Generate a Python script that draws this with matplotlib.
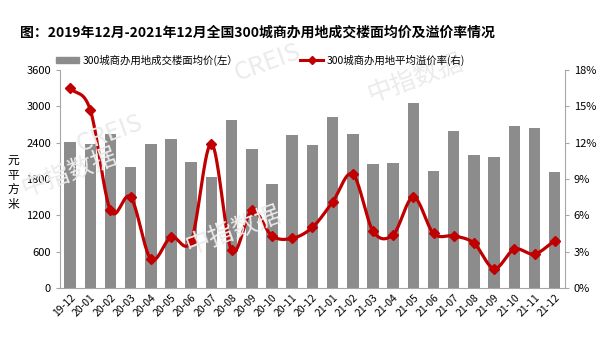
import numpy as np
import matplotlib.pyplot as plt
from matplotlib.lines import Line2D
from matplotlib.patches import Patch
from matplotlib.ticker import FuncFormatter

plt.rcParams['font.family'] = ['Noto Sans CJK SC', 'DejaVu Sans']

months = ['19-12', '20-01', '20-02', '20-03', '20-04', '20-05', '20-06', '20-07',
          '20-08', '20-09', '20-10', '20-11', '20-12', '21-01', '21-02', '21-03',
          '21-04', '21-05', '21-06', '21-07', '21-08', '21-09', '21-10', '21-11', '21-12']
price = [2410, 2370, 2540, 2000, 2380, 2465, 2075, 1835, 2780, 2300, 1715, 2525, 2360,
         2830, 2540, 2045, 2065, 3050, 1925, 2590, 2200, 2155, 2675, 2645, 1915]
premium = [16.5, 14.7, 6.4, 7.5, 2.4, 4.2, 3.9, 11.9, 3.1, 6.4, 4.3, 4.1, 5.0,
           7.1, 9.4, 4.7, 4.4, 7.5, 4.5, 4.3, 3.7, 1.6, 3.2, 2.8, 3.9]

bar_color = '#8c8c8c'
line_color = '#c00000'
axis_color = '#a6a6a6'


def smooth(x, y, n=20):
    # Catmull-Rom style smoothing similar to Excel smoothed lines
    x = np.asarray(x, float)
    y = np.asarray(y, float)
    px = np.concatenate([[2 * x[0] - x[1]], x, [2 * x[-1] - x[-2]]])
    py = np.concatenate([[2 * y[0] - y[1]], y, [2 * y[-1] - y[-2]]])
    xs, ys = [], []
    t = np.linspace(0, 1, n, endpoint=False)
    for i in range(1, len(px) - 2):
        for arr, out in ((px, xs), (py, ys)):
            p0, p1, p2, p3 = arr[i - 1], arr[i], arr[i + 1], arr[i + 2]
            out.extend(0.5 * ((2 * p1) + (-p0 + p2) * t
                              + (2 * p0 - 5 * p1 + 4 * p2 - p3) * t ** 2
                              + (-p0 + 3 * p1 - 3 * p2 + p3) * t ** 3))
    xs.append(x[-1])
    ys.append(y[-1])
    return np.array(xs), np.array(ys)


fig = plt.figure(figsize=(6.06, 3.38), dpi=100)

# faint watermarks
for wx, wy in [(0.6, 0.7), (0.03, 0.42), (0.3, 0.25)]:
    fig.text(wx, wy, '中指数据', fontsize=18, color='#ebebeb', rotation=20, zorder=0)
for wx, wy in [(0.12, 0.55), (0.38, 0.76)]:
    fig.text(wx, wy, 'CREIS', fontsize=18, color='#ebebeb', rotation=20, zorder=0)

ax = fig.add_axes([0.099, 0.148, 0.833, 0.645])
ax.patch.set_alpha(0)
x = np.arange(len(months))
ax.bar(x, price, width=0.57, color=bar_color, zorder=2)
ax.set_ylim(0, 3600)
ax.set_yticks(np.arange(0, 3601, 600))
ax.set_xlim(-0.5, len(months) - 0.5)
ax.set_xticks(x)
ax.set_xticklabels(months, rotation=45, ha='right', rotation_mode='anchor', fontsize=7.5)
ax.tick_params(axis='y', labelsize=8, length=3, color=axis_color)
ax.tick_params(axis='x', length=0, pad=3)
for s in ['top', 'right']:
    ax.spines[s].set_visible(False)
ax.spines['left'].set_color(axis_color)
ax.spines['bottom'].set_color(axis_color)

ax2 = ax.twinx()
sx, sy = smooth(x, premium)
ax2.plot(sx, sy, color=line_color, lw=2.3, zorder=3)
ax2.plot(x, premium, ls='none', marker='D', ms=5.5, color=line_color, zorder=4)
ax2.set_ylim(0, 18)
ax2.set_yticks(np.arange(0, 19, 3))
ax2.yaxis.set_major_formatter(FuncFormatter(lambda v, p: f'{v:.0f}%'))
ax2.tick_params(axis='y', labelsize=8, length=3, color=axis_color)
for s in ['top', 'left', 'bottom']:
    ax2.spines[s].set_visible(False)
ax2.spines['right'].set_color(axis_color)

fig.text(0.012, 0.46, '元\n平\n方\n米', fontsize=8.5, va='center', ha='left', linespacing=1.15)

fig.text(0.425, 0.902, '图：2019年12月-2021年12月全国300城商办用地成交楼面均价及溢价率情况',
         fontsize=10, fontweight='bold', ha='center', va='center')

handles = [Patch(color=bar_color), Line2D([], [], color=line_color, lw=2.2, marker='D', ms=4)]
labels = ['300城商办用地成交楼面均价(左）', '300城商办用地平均溢价率(右)']
fig.legend(handles, labels, loc='center', bbox_to_anchor=(0.43, 0.822), ncol=2, frameon=False,
           fontsize=7.5, columnspacing=6, handlelength=2.2, handletextpad=0.3, handleheight=0.5)

fig.savefig('out.png', dpi=100)
